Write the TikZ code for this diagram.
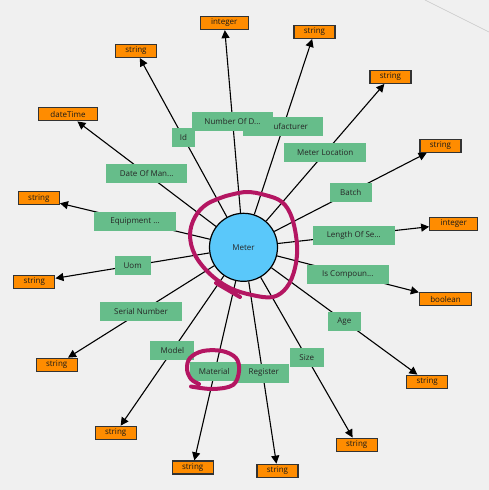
\documentclass[tikz,border=0pt]{standalone}
\usepackage{fontspec}
\setmainfont{Open Sans}
\usetikzlibrary{arrows.meta}
\definecolor{bg}{RGB}{240,240,240}
\definecolor{lbl}{RGB}{102,189,138}
\definecolor{typ}{RGB}{255,140,0}
\definecolor{ent}{RGB}{90,200,250}
\definecolor{ink}{RGB}{180,22,98}
\begin{document}
\begin{tikzpicture}[x=1pt,y=-1pt,
  lblbox/.style={fill=lbl, inner sep=0pt, minimum height=19pt, minimum width=#1,
    font=\fontsize{8}{9}\selectfont, text=black!85},
  typbox/.style={fill=typ, draw=black!80, line width=1.3pt, inner sep=0pt,
    minimum height=13pt, minimum width=#1, font=\fontsize{8}{9}\selectfont, text=black!90},
  entity/.style={circle, fill=ent, draw=black, line width=1.2pt, minimum size=68pt,
    inner sep=0pt, font=\fontsize{8}{9}\selectfont, text=black!85},
  link/.style={draw=black, line width=1.1pt, -{Triangle[length=8pt,width=8pt]}},
  inkstroke/.style={draw=ink, line width=4pt, line cap=round, line join=round}
]
\useasboundingbox (0,0) rectangle (489,490);
\fill[bg] (0,0) rectangle (489,490);
\draw[black!22, line width=0.6pt] (425,0) -- (489,32);

% type nodes
\node[typbox=48pt] (t1) at (224.2,23) {integer};
\node[typbox=41pt] (t2) at (136,51) {string};
\node[typbox=59.5pt] (t3) at (68,114.3) {dateTime};
\node[typbox=41pt] (t4) at (38.8,198.2) {string};
\node[typbox=41pt] (t5) at (314.5,31.8) {string};
\node[typbox=41pt] (t6) at (390.5,76.8) {string};
\node[typbox=41pt] (t7) at (440.5,145.8) {string};
\node[typbox=48pt] (t8) at (453.8,224) {integer};
\node[typbox=52pt] (t9) at (445.5,299.2) {boolean};
\node[typbox=41pt] (t10) at (427.2,381.8) {string};
\node[typbox=41pt] (t11) at (356.7,444.7) {string};
\node[typbox=41pt] (t12) at (277.5,470.8) {string};
\node[typbox=41pt] (t13) at (192.7,467.5) {string};
\node[typbox=41pt] (t14) at (115.7,432.8) {string};
\node[typbox=41pt] (t15) at (56.7,364.8) {string};
\node[typbox=41pt] (t16) at (34.3,281.8) {string};

% entity
\node[entity] (m) at (243.5,247.3) {Meter};

% connectors
\foreach \t in {t1,t2,t3,t4,t5,t6,t7,t8,t9,t10,t11,t12,t13,t14,t15,t16}
  \draw[link] (m) -- (\t);

% labels
\node[lblbox=80pt, text width=50pt, align=right] (l3) at (283,126.7) {ufacturer};
\node[lblbox=23pt] (l1) at (183.5,137.5) {Id};
\node[lblbox=81.6pt] (l2) at (232.5,121) {Number Of D...};
\node[lblbox=81.3pt] (l16) at (146.7,173.8) {Date Of Man...};
\node[lblbox=81.4pt] (l15) at (135,221.3) {Equipment ...};
\node[lblbox=82pt] (l4) at (325.3,152.7) {Meter Location};
\node[lblbox=41.7pt] (l5) at (350.8,192.2) {Batch};
\node[lblbox=81.7pt] (l6) at (353.8,235) {Length Of Se...};
\node[lblbox=81.7pt] (l7) at (347.8,274.2) {Is Compoun...};
\node[lblbox=32.7pt] (l8) at (344.3,321.3) {Age};
\node[lblbox=34pt] (l9) at (306.7,357.7) {Size};
\node[lblbox=51pt] (l10) at (263.8,373) {Register};
\node[lblbox=48.3pt] (l11) at (214.2,371.2) {Material};
\node[lblbox=44pt] (l12) at (172.3,350.5) {Model};
\node[lblbox=82pt] (l13) at (141,311.8) {Serial Number};
\node[lblbox=36pt] (l14) at (132.7,265.3) {Uom};

% hand-drawn annotations
\draw[inkstroke] plot[smooth, tension=0.6] coordinates {
  (226,196) (246,192) (265,195) (282,202) (292,218) (297,245) (295,268)
  (287,287) (273,297) (252,295) (230,288) (210,274) (195,255) (190,235)
  (195,217) (207,204) (226,196)};
\draw[inkstroke] plot[smooth, tension=0.6] coordinates {(216,283) (228,290) (240,297)};
\draw[inkstroke] plot[smooth, tension=0.6] coordinates {
  (191,386.5) (213,389) (233,385) (239,371) (236,358) (222,351) (203,351)
  (190,358) (187,369) (191,379) (199,384)};
\end{tikzpicture}
\end{document}
